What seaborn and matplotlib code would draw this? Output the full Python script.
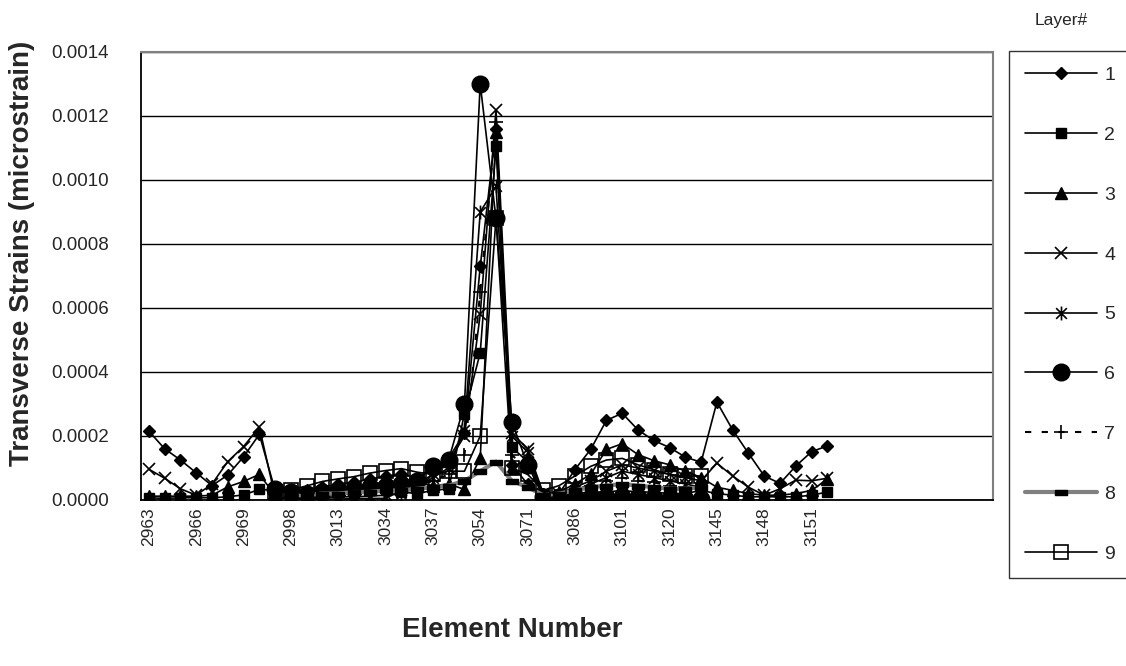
import numpy as np
import pandas as pd
import matplotlib.pyplot as plt
import seaborn as sns
from matplotlib.path import Path
from matplotlib.ticker import FormatStrFormatter, FixedLocator

sns.set_style("white")
plt.rcParams['font.family'] = ['Liberation Sans', 'DejaVu Sans']

# element numbers along the x axis (only every third one is labelled in the chart)
elements = ['2963', '2964', '2965', '2966', '2967', '2968', '2969', '2970', '2997',
            '2998', '3003', '3008', '3013', '3020', '3027', '3034', '3035', '3036',
            '3037', '3044', '3049', '3054', '3060', '3065', '3071', '3076', '3081',
            '3086', '3091', '3096', '3101', '3107', '3113', '3120', '3125', '3130',
            '3145', '3146', '3147', '3148', '3149', '3150', '3151', '3152']
n_slots = 54  # the category axis runs on past the last element

nan = np.nan
# transverse strain per layer, in units of 1e-4
layer1 = [2.15, 1.60, 1.25, 0.85, 0.45, 0.78, 1.35, 2.05, 0.30, 0.20, 0.30, 0.40, 0.50, 0.55, 0.65,
          0.75, 0.80, 0.70, 1.00, 1.30, 2.10, 7.30, 11.60, 1.10, 0.50, 0.20, 0.20, 0.95, 1.58, 2.49,
          2.71, 2.19, 1.86, 1.64, 1.34, 1.18, 3.06, 2.19, 1.46, 0.75, 0.52, 1.06, 1.51, 1.69]
layer2 = [0.07, 0.05, 0.07, 0.07, 0.07, 0.10, 0.16, 0.33, 0.30, 0.20, 0.20, 0.20, 0.25, 0.25, 0.30,
          0.30, 0.25, 0.20, 0.30, 0.35, 2.70, 4.60, 11.05, 1.65, 1.20, 0.20, 0.15, 0.20, 0.25, 0.25,
          0.30, 0.25, 0.25, 0.20, 0.20, 0.30, 0.20, 0.15, 0.10, 0.10, 0.10, 0.10, 0.15, 0.25]
layer3 = [0.12, 0.12, 0.12, 0.12, 0.15, 0.41, 0.58, 0.80, 0.15, 0.15, 0.25, 0.35, 0.40, 0.45, 0.50,
          0.55, 0.60, 0.55, 0.45, 0.50, 0.33, 1.30, 11.50, 1.00, 1.30, 0.20, 0.25, 0.50, 0.80, 1.58,
          1.76, 1.42, 1.23, 1.10, 0.90, 0.70, 0.40, 0.30, 0.20, 0.15, 0.15, 0.20, 0.30, 0.65]
layer4 = [0.96, 0.68, 0.35, 0.15, 0.50, 1.20, 1.67, 2.28, 0.10, 0.02, 0.02, 0.03, 0.03, 0.04, 0.05,
          0.05, 0.30, 0.50, 0.80, 1.20, 2.00, 5.80, 12.20, 2.10, 1.60, 0.20, 0.20, 0.40, 0.60, 0.90,
          1.10, 1.00, 0.90, 0.80, 0.70, 0.60, 1.15, 0.75, 0.40, 0.15, 0.35, 0.62, 0.60, 0.68]
layer5 = [nan, nan, nan, nan, nan, nan, nan, nan, 0.10, 0.05, 0.05, 0.08, 0.10, 0.10, 0.12,
          0.15, 0.20, 0.40, 0.70, 1.00, 2.20, 9.00, 9.80, 2.00, 1.50, 0.15, 0.15, 0.30, 0.50, 0.70,
          0.90, 0.80, 0.70, 0.60, 0.50, 0.40, nan, nan, nan, nan, nan, nan, nan, nan]
layer6 = [nan, nan, nan, nan, nan, nan, nan, nan, 0.35, 0.25, 0.20, 0.25, 0.30, 0.35, 0.40,
          0.45, 0.50, 0.60, 1.06, 1.25, 2.99, 13.00, 8.80, 2.45, 1.10, 0.10, 0.10, 0.10, 0.10, 0.10,
          0.10, 0.08, 0.06, 0.05, 0.02, 0.02, nan, nan, nan, nan, nan, nan, nan, nan]
layer7 = [nan, nan, nan, nan, nan, nan, nan, nan, 0.20, 0.15, 0.15, 0.20, 0.25, 0.30, 0.30,
          0.35, 0.40, 0.45, 0.60, 0.80, 1.40, 6.50, 11.80, 1.40, 1.00, 0.15, 0.20, 0.30, 0.45, 0.60,
          0.70, 0.60, 0.55, 0.45, 0.40, 0.35, nan, nan, nan, nan, nan, nan, nan, nan]
layer8 = [nan, nan, nan, nan, nan, nan, nan, nan, 0.15, 0.15, 0.15, 0.20, 0.20, 0.25, 0.25,
          0.30, 0.30, 0.35, 0.40, 0.45, 0.60, 0.90, 1.20, 0.60, 0.40, 0.15, 0.20, 0.30, 0.40, 0.45,
          0.50, 0.45, 0.40, 0.35, 0.35, 0.40, nan, nan, nan, nan, nan, nan, nan, nan]
layer9 = [nan, nan, nan, nan, nan, nan, nan, nan, 0.25, 0.32, 0.44, 0.58, 0.66, 0.73, 0.84,
          0.92, 0.98, 0.87, 0.80, 0.90, 0.90, 2.00, 8.80, 1.00, 0.80, 0.30, 0.45, 0.75, 1.05, 1.25,
          1.30, 1.10, 0.95, 0.80, 0.75, 0.75, nan, nan, nan, nan, nan, nan, nan, nan]

layers = [layer1, layer2, layer3, layer4, layer5, layer6, layer7, layer8, layer9]
layer_names = ['1', '2', '3', '4', '5', '6', '7', '8', '9']

# excel style markers
star = Path([(-1, -1), (1, 1), (-1, 1), (1, -1), (0, -1.3), (0, 1.3)],
            [Path.MOVETO, Path.LINETO, Path.MOVETO, Path.LINETO, Path.MOVETO, Path.LINETO])
dash = Path([(-1, -0.45), (1, -0.45), (1, 0.45), (-1, 0.45), (-1, -0.45)],
            [Path.MOVETO, Path.LINETO, Path.LINETO, Path.LINETO, Path.CLOSEPOLY])

styles = [
    dict(marker='D', markersize=6.5, markerfacecolor='black', color='black', linewidth=1.2),
    dict(marker='s', markersize=7.5, markerfacecolor='black', color='black', linewidth=1.2),
    dict(marker='^', markersize=8, markerfacecolor='black', color='black', linewidth=1.2),
    dict(marker='x', markersize=9, markeredgewidth=1.2, color='black', linewidth=1.2),
    dict(marker=star, markersize=10, markeredgewidth=1.2, color='black', linewidth=1.2),
    dict(marker='o', markersize=12, markerfacecolor='black', color='black', linewidth=1.2),
    dict(marker='+', markersize=10, markeredgewidth=1.2, color='black', linewidth=1.5,
         linestyle=(0, (3, 5))),
    dict(marker=dash, markersize=8, markerfacecolor='black', color='#808080', linewidth=3),
    dict(marker='s', markersize=10.5, markerfacecolor='none', markeredgewidth=1.2,
         color='black', linewidth=1.2),
]

fig = plt.figure(figsize=(11.26, 6.66), dpi=100)
ax = fig.add_axes([141 / 1126, 1 - 500 / 666, (993 - 141) / 1126, (500 - 52) / 666])

pos = np.arange(len(elements))
for name, vals, st in zip(layer_names, layers, styles):
    df = pd.DataFrame({'pos': pos, 'strain': np.array(vals) * 1e-4})
    st = dict(st)
    st.setdefault('markeredgewidth', 1.0)
    st['markeredgecolor'] = 'black'
    sns.lineplot(data=df, x='pos', y='strain', ax=ax, label=name,
                 estimator=None, sort=False, errorbar=None, **st)

# axes
ax.set_xlim(-0.5, n_slots - 0.5)
ax.set_ylim(0, 0.0014)
ax.set_yticks(np.arange(0, 0.00141, 0.0002))
ax.yaxis.set_major_formatter(FormatStrFormatter('%.4f'))
lab_pos = pos[::3]
ax.xaxis.set_major_locator(FixedLocator(lab_pos))
ax.set_xticklabels([elements[i] for i in lab_pos], rotation=90)
ax.xaxis.set_minor_locator(FixedLocator(np.arange(-0.5, n_slots, 1)))
ax.tick_params(axis='x', which='major', length=0, pad=5, labelsize=12.5)
ax.tick_params(axis='x', which='minor', length=5, width=1, color='black', direction='out')
ax.tick_params(axis='y', which='major', length=5, width=1, color='black', direction='out',
               labelsize=13.5, pad=18)
ax.yaxis.grid(True, color='black', linewidth=1.0)
ax.xaxis.grid(False)
ax.set_axisbelow(True)
for side in ['left', 'bottom']:
    ax.spines[side].set_color('black')
    ax.spines[side].set_linewidth(1.3)
for side in ['top', 'right']:
    ax.spines[side].set_color('#808080')
    ax.spines[side].set_linewidth(1.5)
ax.set_xlabel('')
ax.set_ylabel('')

fig.text(0.0195, 0.619, 'Transverse Strains (microstrain)', rotation=90,
         ha='center', va='center', fontsize=20, fontweight='bold')
fig.text(512 / 1126, 1 - 630 / 666, 'Element Number', ha='center', va='center',
         fontsize=20, fontweight='bold')

# legend
handles, labels = ax.get_legend_handles_labels()
ax.get_legend().remove()
leg = fig.legend(handles, labels, loc='upper left', bbox_to_anchor=(1009 / 1126, 1 - 51 / 666),
                 borderaxespad=0, frameon=True, fancybox=False, edgecolor='black',
                 fontsize=14, handlelength=3.7, labelspacing=2.17, handletextpad=0.4,
                 borderpad=0.8)
leg.get_frame().set_linewidth(1.0)
fig.text(1061 / 1126, 1 - 20 / 666, 'Layer#', ha='center', va='center', fontsize=12.5)

plt.savefig('out.png', dpi=100)
